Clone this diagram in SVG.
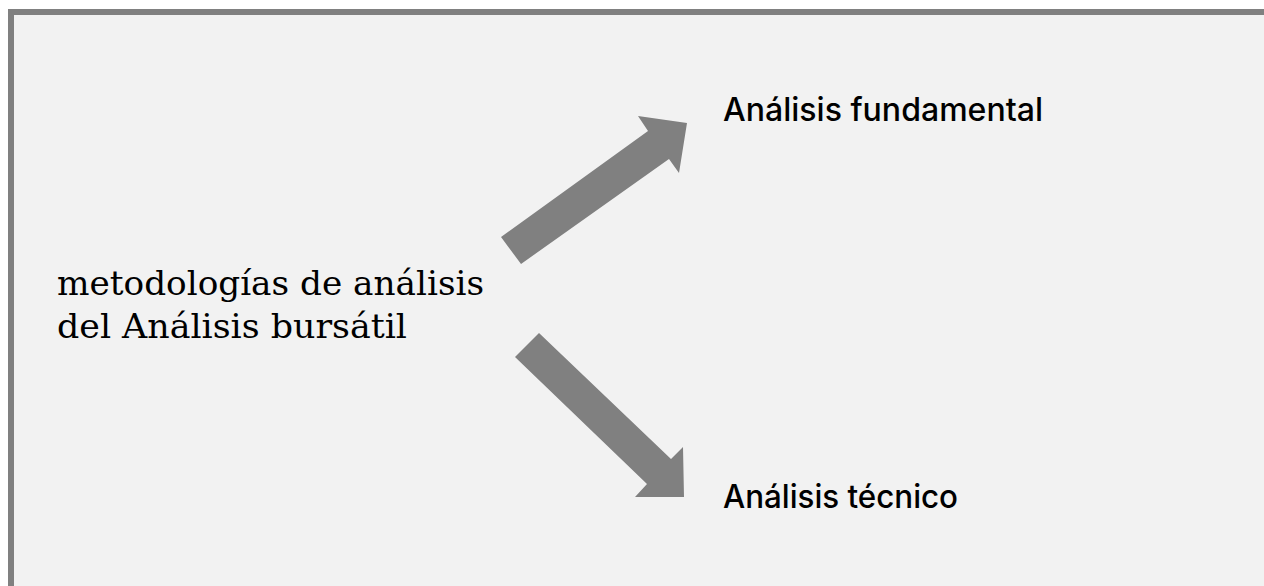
<svg xmlns="http://www.w3.org/2000/svg" width="1264" height="586" viewBox="0 0 1264 586">
<style>
.arrow{fill:#808080;}
.serif{font-family:"DejaVu Serif","Liberation Serif",serif;font-size:34px;fill:#000;}
.sans{font-family:"Inter","Liberation Sans",sans-serif;font-size:32px;font-weight:500;fill:#000;}
</style>
<rect x="0" y="0" width="1264" height="586" fill="#ffffff"/>
<rect id="frame" x="11" y="12" width="1270" height="600" fill="#f2f2f2" stroke="#808080" stroke-width="6"/>
<g id="source">
<text class="serif" x="57" y="295" textLength="427" lengthAdjust="spacingAndGlyphs">metodologías de análisis</text>
<text class="serif" x="57" y="338" textLength="350" lengthAdjust="spacingAndGlyphs">del Análisis bursátil</text>
</g>
<g id="fundamental">
<text class="sans" x="723" y="121" textLength="320" lengthAdjust="spacingAndGlyphs">Análisis fundamental</text>
</g>
<g id="tecnico">
<text class="sans" x="723" y="508" textLength="235" lengthAdjust="spacingAndGlyphs">Análisis técnico</text>
</g>
<g id="connectors">
<polygon class="arrow" points="501,237 648,131 638,116 687,123 679,173 669,159 521,264"/>
<polygon class="arrow" points="539,333 671,459 683,447 684,497 635,497 647,484 515,357"/>
</g>
</svg>
